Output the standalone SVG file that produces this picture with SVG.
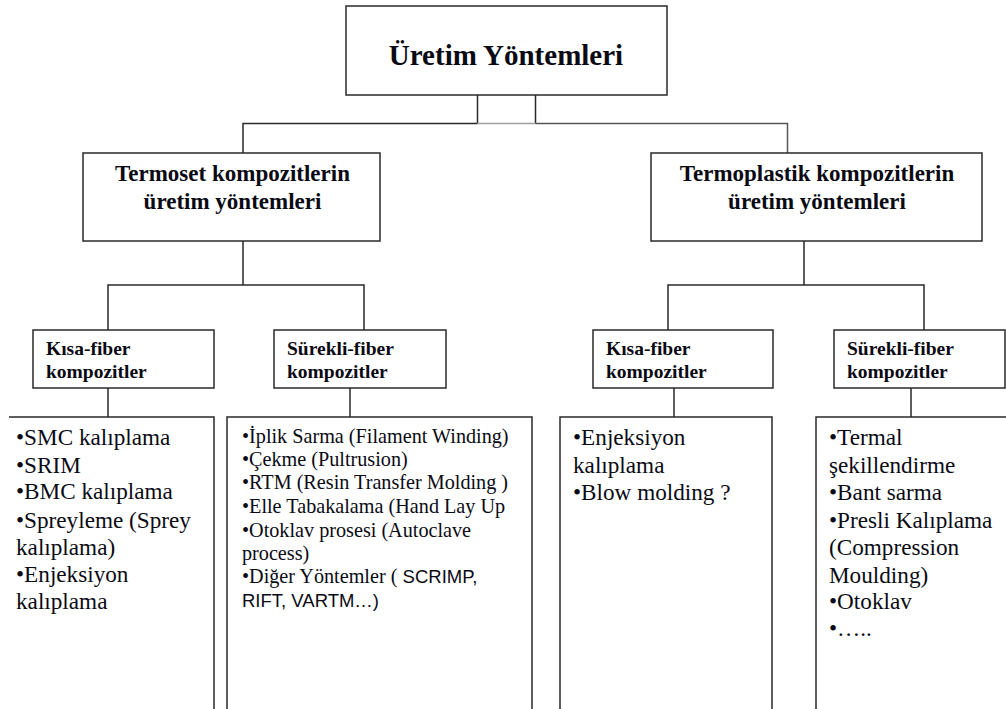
<svg xmlns="http://www.w3.org/2000/svg" width="1006" height="709" viewBox="0 0 1006 709">
<style>
.box{fill:#fff;stroke:#2a2a2a;stroke-width:1.5}
.ln{fill:none;stroke:#2a2a2a;stroke-width:1.5}
.lg{fill:none;stroke:#a0a0a0;stroke-width:1.5}
.t0{font-family:"Liberation Serif",serif;font-weight:bold;font-size:29px;fill:#0a0a14;text-anchor:middle}
.t1{font-family:"Liberation Serif",serif;font-weight:bold;font-size:23px;fill:#0a0a14;text-anchor:middle}
.t2{font-family:"Liberation Serif",serif;font-weight:bold;font-size:19.5px;fill:#0a0a14}
.t3{font-family:"Liberation Serif",serif;font-size:23.2px;fill:#0a0a14}
.t4{font-family:"Liberation Serif",serif;font-size:20.2px;fill:#0a0a14}
.sans{font-family:"Liberation Sans",sans-serif;font-size:18.5px}
</style>
<rect width="1006" height="709" fill="#fff"/>
<g id="connectors">
<path class="ln" d="M477.5 95V123.5M535.5 95V123.5M243 123.5H477.5M243 122.8V153"/>
<path class="lg" d="M477.5 123.5H535.5"/>
<path class="ln" d="M535.5 123.5H787.5V153" style="stroke:#555"/>
<path class="ln" d="M243 241V285H108V330M243 285H364V330"/>
<path class="ln" d="M804 241V285H668V330M804 285H924V330"/>
<path class="ln" d="M108 388V417M350 388V417M674 388V417M911 388V417"/>
</g>
<g id="root">
<rect class="box" x="346" y="6" width="321" height="89"/>
<text class="t0" x="506" y="65">Üretim Yöntemleri</text>
</g>
<g id="termoset">
<rect class="box" x="83" y="153" width="297" height="88"/>
<text class="t1" x="232.5" y="181">Termoset kompozitlerin</text>
<text class="t1" x="232.5" y="209">üretim yöntemleri</text>
</g>
<g id="termoplastik">
<rect class="box" x="651" y="153" width="331" height="88"/>
<text class="t1" x="817" y="181">Termoplastik kompozitlerin</text>
<text class="t1" x="817" y="209">üretim yöntemleri</text>
</g>
<g id="ts-kisa">
<rect class="box" x="33" y="330" width="181" height="58"/>
<text class="t2" x="46" y="355">Kısa-fiber</text>
<text class="t2" x="46" y="378">kompozitler</text>
</g>
<g id="ts-surekli">
<rect class="box" x="274" y="330" width="172" height="58"/>
<text class="t2" x="287" y="355">Sürekli-fiber</text>
<text class="t2" x="287" y="378">kompozitler</text>
</g>
<g id="tp-kisa">
<rect class="box" x="593" y="330" width="180" height="58"/>
<text class="t2" x="606" y="355">Kısa-fiber</text>
<text class="t2" x="606" y="378">kompozitler</text>
</g>
<g id="tp-surekli">
<rect class="box" x="834" y="330" width="171" height="58"/>
<text class="t2" x="847" y="355">Sürekli-fiber</text>
<text class="t2" x="847" y="378">kompozitler</text>
</g>
<g id="ts-kisa-list">
<path class="ln" d="M9 417H214V712"/>
<text class="t3" x="16" y="445">•SMC kalıplama</text>
<text class="t3" x="16" y="473">•SRIM</text>
<text class="t3" x="16" y="499">•BMC kalıplama</text>
<text class="t3" x="16" y="528">•Spreyleme (Sprey</text>
<text class="t3" x="16" y="555">kalıplama)</text>
<text class="t3" x="16" y="582">•Enjeksiyon</text>
<text class="t3" x="16" y="609">kalıplama</text>
</g>
<g id="ts-surekli-list">
<path class="ln" d="M227 712V417H532V712"/>
<text class="t4" x="242" y="443">•İplik Sarma (Filament Winding)</text>
<text class="t4" x="242" y="466">•Çekme (Pultrusion)</text>
<text class="t4" x="242" y="489">•RTM  (Resin Transfer Molding )</text>
<text class="t4" x="242" y="513">•Elle Tabakalama (Hand Lay Up</text>
<text class="t4" x="242" y="537">•Otoklav prosesi (Autoclave</text>
<text class="t4" x="242" y="560">process)</text>
<text class="t4" x="242" y="583">•Diğer Yöntemler (<tspan class="sans"> SCRIMP,</tspan></text>
<text class="t4 sans" x="242" y="607">RIFT, VARTM…)</text>
</g>
<g id="tp-kisa-list">
<path class="ln" d="M560 712V417H772V712"/>
<text class="t3" x="573" y="445">•Enjeksiyon</text>
<text class="t3" x="573" y="473">kalıplama</text>
<text class="t3" x="573" y="500">•Blow molding ?</text>
</g>
<g id="tp-surekli-list">
<path class="ln" d="M816 712V417H1008"/>
<text class="t3" x="829" y="445">•Termal</text>
<text class="t3" x="829" y="473">şekillendirme</text>
<text class="t3" x="829" y="500">•Bant sarma</text>
<text class="t3" x="829" y="528">•Presli Kalıplama</text>
<text class="t3" x="829" y="555">(Compression</text>
<text class="t3" x="829" y="583">Moulding)</text>
<text class="t3" x="829" y="609">•Otoklav</text>
<text class="t3" x="829" y="636">•…..</text>
</g>
</svg>
